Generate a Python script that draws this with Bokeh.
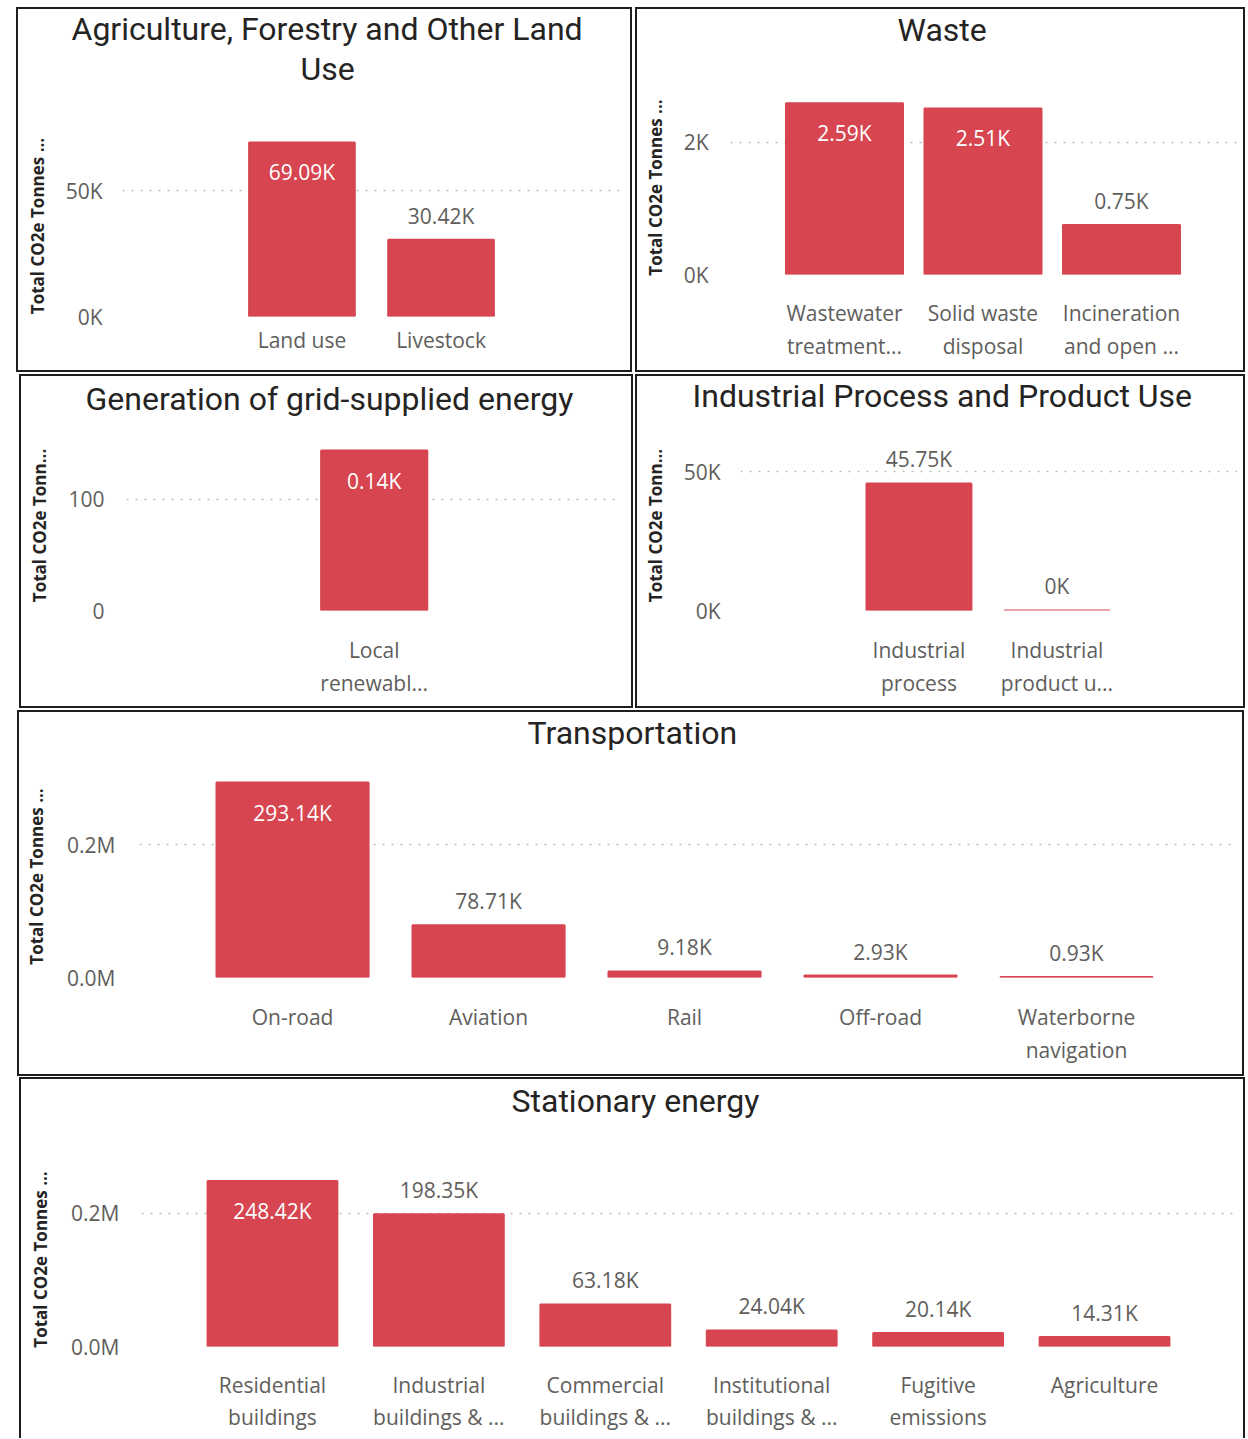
import numpy as np
from bokeh.plotting import figure
from bokeh.models import Range1d, FixedTicker, Title, Spacer, ColumnDataSource
from bokeh.layouts import row, column
from bokeh.embed import file_html
from bokeh.resources import INLINE
from bokeh.core.properties import value

# ---------------- data ----------------
afolu_title = ["Agriculture, Forestry and Other Land", "Use"]
afolu_cats = ["Land use", "Livestock"]
afolu_vals = [69090, 30420]
afolu_ticks = [0, 50000]
afolu_tick_labels = ["0K", "50K"]

waste_title = ["Waste"]
waste_cats = ["Wastewater\ntreatment...", "Solid waste\ndisposal", "Incineration\nand open ..."]
waste_vals = [2590, 2510, 750]
waste_ticks = [0, 2000]
waste_tick_labels = ["0K", "2K"]

grid_title = ["Generation of grid-supplied energy"]
grid_cats = ["Local\nrenewabl..."]
grid_vals = [144]
grid_ticks = [0, 100]
grid_tick_labels = ["0", "100"]

ippu_title = ["Industrial Process and Product Use"]
ippu_cats = ["Industrial\nprocess", "Industrial\nproduct u..."]
ippu_vals = [45750, 3]
ippu_ticks = [0, 50000]
ippu_tick_labels = ["0K", "50K"]

trans_title = ["Transportation"]
trans_cats = ["On-road", "Aviation", "Rail", "Off-road", "Waterborne\nnavigation"]
trans_vals = [293140, 78710, 9180, 2930, 930]
trans_ticks = [0, 200000]
trans_tick_labels = ["0.0M", "0.2M"]

stat_title = ["Stationary energy"]
stat_cats = ["Residential\nbuildings", "Industrial\nbuildings & ...", "Commercial\nbuildings & ...",
             "Institutional\nbuildings & ...", "Fugitive\nemissions", "Agriculture"]
stat_vals = [248420, 198350, 63180, 24040, 20140, 14310]
stat_ticks = [0, 200000]
stat_tick_labels = ["0.0M", "0.2M"]

ylabel_long = "Total CO2e Tonnes ..."
ylabel_short = "Total CO2e Tonn..."

# ---------------- style ----------------
BAR = "#d64550"
TXT = "#605e5c"
DARK = "#252423"
LABEL_FONT = "Open Sans"
TITLE_FONT = "Roboto"
FS = "21px"
BOX_FULL = {"outline": "2px solid #1e1e1e", "outline-offset": "-2px"}
BOX_OPEN_BOTTOM = {"box-shadow": "inset 2px 2px 0 #1e1e1e, inset -2px 0 0 #1e1e1e"}


def fmt(v):
    s = f"{v / 1000:.2f}".rstrip("0").rstrip(".")
    return s + "K"


def make_panel(titles, cats, vals, ticks, tick_labels, ylabel, g):
    p = figure(width=g["w"], height=g["h"], output_backend="svg", toolbar_location=None,
               x_range=Range1d(*g["xr"]), y_range=Range1d(0, g["yend"]),
               min_border_left=g["mbl"], min_border_right=g["mbr"],
               min_border_top=g["mbt"], min_border_bottom=g["mbb"],
               background_fill_color=None, border_fill_color=None,
               styles=g.get("box", BOX_FULL))
    p.outline_line_color = None
    x = np.arange(len(cats))
    inside = [v / g["yend"] > 0.85 for v in vals]
    src = ColumnDataSource(dict(
        x=x, top=vals, lab=[fmt(v) for v in vals],
        col=["white" if i else TXT for i in inside],
        off=[30 if i else -24 for i in inside],
    ))
    p.vbar(x="x", top="top", bottom=0, width=g["bw"], source=src,
           fill_color=BAR, line_color=BAR, line_width=2)
    p.text(x="x", y="top", text="lab", source=src, text_color="col", y_offset="off",
           text_align="center", text_baseline="middle",
           text_font=value(LABEL_FONT), text_font_size=FS)

    p.xgrid.visible = False
    p.ygrid.grid_line_color = "#bdbdbd"
    p.ygrid.grid_line_dash = "2 7"
    p.ygrid.grid_line_width = 1.5

    xa = p.xaxis[0]
    xa.ticker = FixedTicker(ticks=list(x))
    xa.major_label_overrides = {int(i): c for i, c in zip(x, cats)}
    xa.axis_line_color = None
    xa.major_tick_line_color = None
    xa.minor_tick_line_color = None
    xa.major_label_text_font = LABEL_FONT
    xa.major_label_text_font_size = FS
    xa.major_label_text_color = TXT
    xa.major_label_text_line_height = g["lh"]
    xa.major_label_standoff = g["xso"]

    ya = p.yaxis[0]
    ya.ticker = FixedTicker(ticks=ticks)
    ya.major_label_overrides = {t: l for t, l in zip(ticks, tick_labels)}
    ya.axis_line_color = None
    ya.major_tick_line_color = None
    ya.minor_tick_line_color = None
    ya.major_label_text_font = LABEL_FONT
    ya.major_label_text_font_size = FS
    ya.major_label_text_color = TXT
    ya.major_label_standoff = g["yso"]
    ya.axis_label = ylabel
    ya.axis_label_text_font = LABEL_FONT
    ya.axis_label_text_font_size = "17px"
    ya.axis_label_text_font_style = "bold"
    ya.axis_label_text_color = DARK
    ya.axis_label_standoff = g["alo"]

    # title: first line outermost, then the other lines, then a blank gap next to the frame
    def mk(t, k):
        return Title(text=t, align="left", offset=g["toff"][k], standoff=0,
                     text_font=TITLE_FONT, text_font_size="32px", text_font_style="normal",
                     text_color=DARK)
    p.title = mk(titles[0], 0)
    p.add_layout(Title(text=" ", text_font_size="10px", standoff=g["gap"], text_font=TITLE_FONT),
                 "above")
    for k in range(1, len(titles)):
        p.add_layout(mk(titles[k], k), "above")
    return p


G1 = dict(w=616, h=365, mbl=106, mbr=12, mbt=127, mbb=56, xr=(-1.29, 2.29), yend=71850, bw=0.76,
          lh=1.2, xso=3, yso=14, alo=14, toff=[-51, 178], gap=35)
G2 = dict(w=610, h=365, mbl=95, mbr=6, mbt=93, mbb=98, xr=(-0.823, 2.852), yend=2630, bw=0.845,
          lh=1.2, xso=18, yso=16, alo=14, toff=[167], gap=39)
G3 = dict(w=614, h=334, mbl=107, mbr=13, mbt=66, mbb=98, xr=(-1.78, 1.77), yend=153, bw=0.763,
          lh=1.2, xso=19, yso=16, alo=14, toff=[-41], gap=10)
G4 = dict(w=610, h=334, mbl=105, mbr=8, mbt=66, mbb=98, xr=(-1.293, 2.308), yend=61200, bw=0.76,
          lh=1.2, xso=19, yso=14, alo=14, toff=[-48], gap=13)
G5 = dict(w=1227, h=366, mbl=122, mbr=11, mbt=65, mbb=99, xr=(-0.781, 4.801), yend=303800, bw=0.776,
          lh=1.2, xso=19, yso=18, alo=16, toff=[388], gap=11)
G6 = dict(w=1226, h=361, mbl=122, mbr=7, mbt=95, mbb=92, xr=(-0.787, 5.805), yend=261000, bw=0.78,
          lh=1.15, xso=18, yso=16, alo=16, toff=[370], gap=40, box=BOX_OPEN_BOTTOM)

p1 = make_panel(afolu_title, afolu_cats, afolu_vals, afolu_ticks, afolu_tick_labels, ylabel_long, G1)
p2 = make_panel(waste_title, waste_cats, waste_vals, waste_ticks, waste_tick_labels, ylabel_long, G2)
p3 = make_panel(grid_title, grid_cats, grid_vals, grid_ticks, grid_tick_labels, ylabel_short, G3)
p4 = make_panel(ippu_title, ippu_cats, ippu_vals, ippu_ticks, ippu_tick_labels, ylabel_short, G4)
p5 = make_panel(trans_title, trans_cats, trans_vals, trans_ticks, trans_tick_labels, ylabel_long, G5)
p6 = make_panel(stat_title, stat_cats, stat_vals, stat_ticks, stat_tick_labels, ylabel_long, G6)

layout = column(
    Spacer(width=10, height=7),
    row(Spacer(width=16, height=365), column(p1), Spacer(width=3, height=365), column(p2)),
    Spacer(width=10, height=2),
    row(Spacer(width=19, height=334), column(p3), Spacer(width=2, height=334), column(p4)),
    Spacer(width=10, height=2),
    row(Spacer(width=17, height=366), column(p5)),
    Spacer(width=10, height=1),
    row(Spacer(width=19, height=361), column(p6)),
)

open("out.html", "w").write(file_html(layout, INLINE))
